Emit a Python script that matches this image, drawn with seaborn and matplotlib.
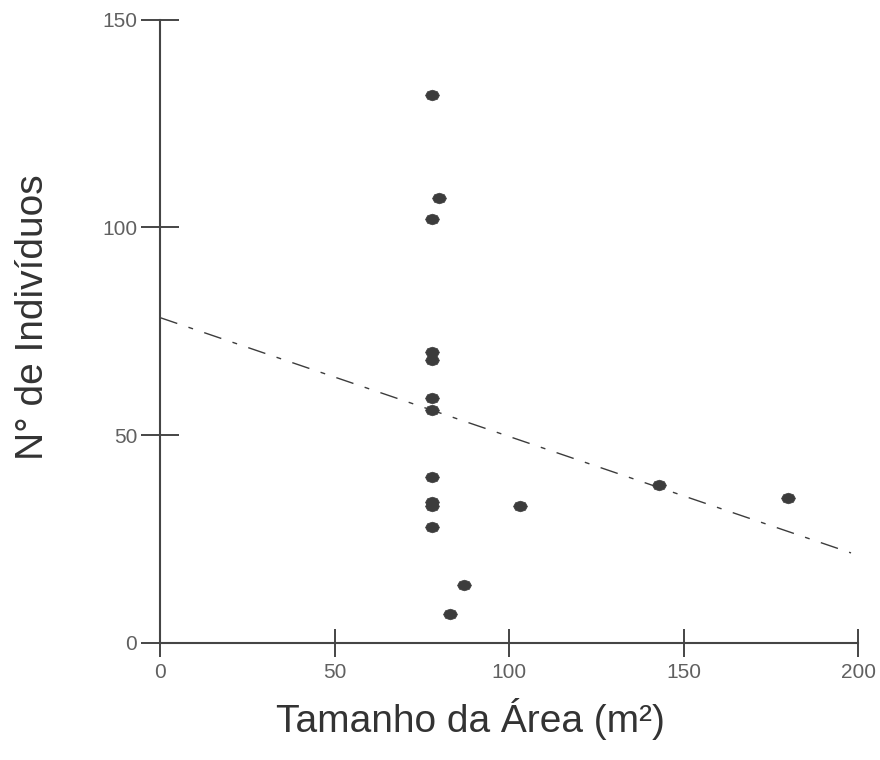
import numpy as np
import pandas as pd
import matplotlib
matplotlib.use("Agg")
import matplotlib.pyplot as plt
from matplotlib.path import Path
import seaborn as sns

# Data
area = [78, 80, 78, 78, 78, 78, 78, 78, 78, 78, 78, 103, 87, 83, 143, 180]
individuos = [132, 107, 102, 70, 68, 59, 56, 40, 34, 33, 28, 33, 14, 7, 38, 35]
fit_intercept = 78.3
fit_slope = -0.286
fit_range = [0, 198]
x_ticks = [0, 50, 100, 150, 200]
y_ticks = [0, 50, 100, 150]

sns.set_theme(style="white")
plt.rcParams['font.family'] = ['Liberation Sans', 'DejaVu Sans']

df = pd.DataFrame({"area": area, "ind": individuos})
fx = np.array(fit_range, dtype=float)
line_df = pd.DataFrame({"x": fx, "y": fit_intercept + fit_slope * fx})

fig = plt.figure(figsize=(8.8, 7.6), dpi=100)
ax = fig.add_axes([0.182, 0.154, 0.793, 0.820])

# ellipse-like marker (wider than tall)
t = np.linspace(0, 2 * np.pi, 9)
verts = np.column_stack([1.3 * np.cos(t), np.sin(t)])
ell = Path(verts, closed=True)

dark = "#3c3c3c"
sns.lineplot(data=line_df, x="x", y="y", ax=ax, color=dark, lw=1.0,
             dashes=False)
ax.lines[-1].set_dashes((13, 8.5, 3.5, 8.5))
sns.scatterplot(data=df, x="area", y="ind", ax=ax, marker=ell, s=100,
                color=dark, edgecolor=dark, linewidth=0.5, zorder=3)

ax.set_xlim(0, 200)
ax.set_ylim(0, 150)
ax.set_xticks(x_ticks)
ax.set_yticks(y_ticks)
ax.set_xticklabels([str(v) for v in x_ticks])
ax.set_yticklabels([str(v) for v in y_ticks])

for s in ["top", "right"]:
    ax.spines[s].set_visible(False)
for s in ["left", "bottom"]:
    ax.spines[s].set_color("#454545")
    ax.spines[s].set_linewidth(1.5)

ax.tick_params(axis="y", left=True, direction="inout", length=27, width=1.4,
               color="#454545", labelsize=15, labelcolor="#606060", pad=3)
ax.tick_params(axis="x", bottom=True, direction="inout", length=20, width=1.4,
               color="#454545", labelsize=15, labelcolor="#606060", pad=4.4)

ax.set_xlabel("Tamanho da Área (m²)", fontsize=28, color="#333333")
ax.set_ylabel("N° de Indivíduos", fontsize=28, color="#333333")
ax.xaxis.set_label_coords(0.444, -0.088)
ax.yaxis.set_label_coords(-0.156, 0.522)

fig.savefig("out.png", dpi=100, facecolor="white")
